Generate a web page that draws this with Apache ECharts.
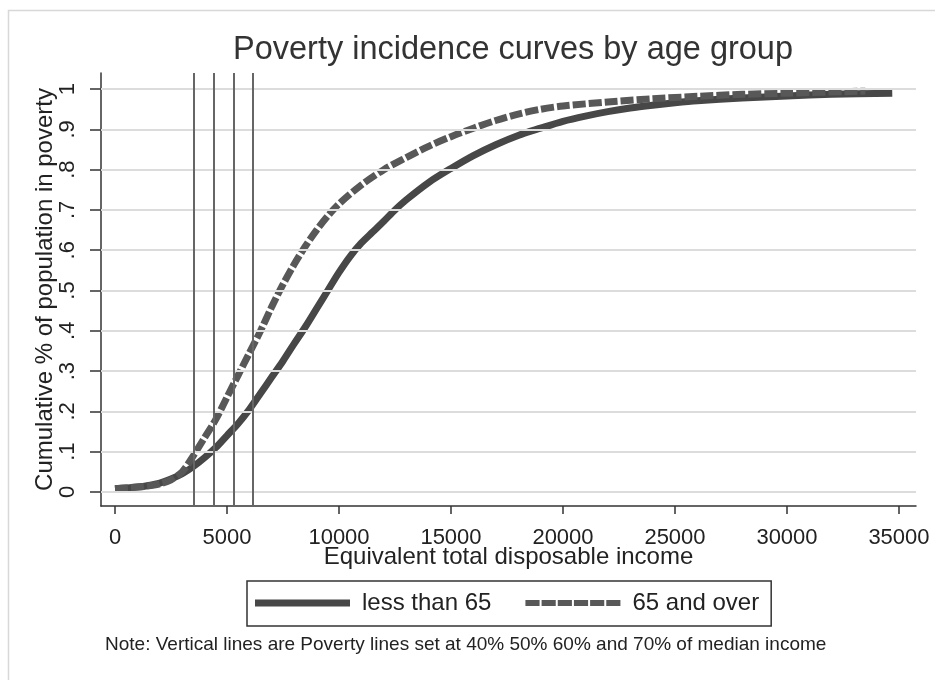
<!DOCTYPE html>
<html><head><meta charset="utf-8">
<script src="https://cdn.jsdelivr.net/npm/echarts@6/dist/echarts.min.js"></script>
<style>html,body{margin:0;padding:0;background:#fff}#c{width:935px;height:680px}</style>
</head><body><div id="c"></div>
<script>
const chartTitle = 'Poverty incidence curves by age group';
const xTitle = 'Equivalent total disposable income';
const yTitle = 'Cumulative % of population in poverty';
const noteText = 'Note: Vertical lines are Poverty lines set at 40% 50% 60% and 70% of median income';
const seriesNames = ['less than 65', '65 and over'];

const incomeU65 = [0, 500, 1000, 1500, 2000, 2500, 3000, 3500, 4000, 4500, 5000, 5500, 6000, 6500, 7000, 7500, 8000, 8500, 9000, 9500, 10000, 10500, 11000, 11500, 12000, 12500, 13000, 14000, 15000, 16000, 17000, 18000, 19000, 20000, 21000, 22000, 23000, 24000, 25000, 26000, 28000, 30000, 32000, 34700];
const cumU65 = [0.008, 0.01, 0.012, 0.016, 0.022, 0.032, 0.045, 0.063, 0.085, 0.11, 0.14, 0.17, 0.205, 0.245, 0.285, 0.325, 0.368, 0.41, 0.455, 0.50, 0.545, 0.585, 0.618, 0.645, 0.672, 0.70, 0.725, 0.768, 0.803, 0.835, 0.862, 0.885, 0.903, 0.92, 0.933, 0.944, 0.953, 0.96, 0.966, 0.971, 0.978, 0.983, 0.987, 0.99];

const incomeO65 = [0, 500, 1000, 1500, 2000, 2500, 3000, 3500, 4000, 4500, 5000, 5500, 6000, 6500, 7000, 7500, 8000, 8500, 9000, 9500, 10000, 11000, 12000, 13000, 14000, 15000, 16000, 17000, 18000, 19000, 20000, 22000, 24000, 26000, 28000, 30000, 33500];
const cumO65 = [0.008, 0.01, 0.012, 0.015, 0.02, 0.03, 0.05, 0.09, 0.135, 0.18, 0.235, 0.29, 0.345, 0.40, 0.46, 0.515, 0.565, 0.61, 0.65, 0.685, 0.715, 0.762, 0.80, 0.83, 0.858, 0.882, 0.903, 0.922, 0.938, 0.95, 0.958, 0.968, 0.976, 0.982, 0.987, 0.99, 0.995];

const povertyLines = [3530, 4410, 5290, 6170];
const xTicks = [0, 5000, 10000, 15000, 20000, 25000, 30000, 35000];
const yTicks = [0, 0.1, 0.2, 0.3, 0.4, 0.5, 0.6, 0.7, 0.8, 0.9, 1];
const yTickLabels = ['0', '.1', '.2', '.3', '.4', '.5', '.6', '.7', '.8', '.9', '1'];

const FONT = "'Liberation Sans', Arial, sans-serif";
const zip = (xs, ys) => xs.map((x, i) => [x, ys[i]]);
const dashIcon = 'path://M0,0h14v6h-14z M16,0h14v6h-14z M32,0h14v6h-14z M48,0h14v6h-14z M64,0h14v6h-14z M80,0h14v6h-14z';

const chart = echarts.init(document.getElementById('c'), null, {renderer: 'canvas'});
chart.setOption({
  backgroundColor: '#fff',
  animation: false,
  textStyle: {fontFamily: FONT},
  title: {
    text: chartTitle, left: 508, top: 29, textAlign: 'center',
    textStyle: {fontFamily: FONT, fontSize: 32.5, fontWeight: 'normal', color: '#333'}
  },
  graphic: [
    {type: 'rect', left: 6, top: 8, shape: {width: 960, height: 700}, style: {fill: 'none', stroke: '#d8d8d8', lineWidth: 1.5}, silent: true, z: -10},
    {type: 'text', left: 105, top: 635, style: {text: noteText, fontFamily: FONT, fontSize: 19, fill: '#222'}}
  ],
  grid: {left: 101, right: 19, top: 73, bottom: 174, containLabel: false},
  legend: {
    data: [
      {name: seriesNames[0], icon: 'rect', itemStyle: {color: '#474747'}},
      {name: seriesNames[1], icon: dashIcon, itemStyle: {color: '#585858'}}
    ],
    left: 247, top: 581, orient: 'horizontal',
    padding: [10, 12, 11, 8], itemGap: 34, itemWidth: 95, itemHeight: 7,
    borderColor: '#333', borderWidth: 1.5,
    textStyle: {fontFamily: FONT, fontSize: 24, color: '#222', padding: [0, 0, 0, 7]}
  },
  xAxis: {
    type: 'value', min: -625, max: 35760,
    name: xTitle, nameLocation: 'middle', nameGap: 39, nameMoveOverlap: false,
    nameTextStyle: {fontFamily: FONT, fontSize: 24, color: '#222'},
    axisLine: {show: true, onZero: false, lineStyle: {color: '#333', width: 1.5}},
    axisTick: {show: true, length: 8, customValues: xTicks, lineStyle: {color: '#333', width: 1.5}},
    axisLabel: {customValues: xTicks, margin: 21, fontFamily: FONT, fontSize: 22, color: '#222',
      formatter: v => String(v)},
    splitLine: {show: false}
  },
  yAxis: {
    type: 'value', min: -0.035, max: 1.04,
    name: yTitle, nameLocation: 'middle', nameGap: 44, nameMoveOverlap: false,
    nameTextStyle: {fontFamily: FONT, fontSize: 24, color: '#222'},
    axisLine: {show: true, onZero: false, lineStyle: {color: '#333', width: 1.5}},
    axisTick: {show: true, length: 11, customValues: yTicks, lineStyle: {color: '#333', width: 1.5}},
    axisLabel: {customValues: yTicks, rotate: 90, margin: 22, fontFamily: FONT, fontSize: 22, color: '#222',
      formatter: v => { const i = yTicks.findIndex(t => Math.abs(t - v) < 1e-9); return i >= 0 ? yTickLabels[i] : ''; }},
    splitLine: {show: false}
  },
  series: [
    {
      name: 'grid', type: 'line', data: [], silent: true, z: 1,
      markLine: {silent: true, symbol: 'none', label: {show: false},
        lineStyle: {color: '#dcdcdc', width: 2, type: 'solid'},
        data: yTicks.map(v => ({yAxis: v}))}
    },
    {
      name: seriesNames[0], type: 'line', data: zip(incomeU65, cumU65), smooth: 0.3,
      showSymbol: false, symbol: 'none', z: 3,
      lineStyle: {color: '#474747', width: 7, type: 'solid', cap: 'butt'},
      itemStyle: {color: '#474747'}
    },
    {
      name: seriesNames[1], type: 'line', data: zip(incomeO65, cumO65), smooth: 0.3,
      showSymbol: false, symbol: 'none', z: 4,
      lineStyle: {color: '#585858', width: 7, type: [13, 3], cap: 'butt'},
      itemStyle: {color: '#585858'}
    },
    {
      name: 'poverty lines', type: 'line', data: [], silent: true, z: 5,
      markLine: {silent: true, symbol: 'none', label: {show: false},
        lineStyle: {color: '#666', width: 2, type: 'solid'},
        data: povertyLines.map(v => ({xAxis: v}))}
    }
  ]
});
</script></body></html>
